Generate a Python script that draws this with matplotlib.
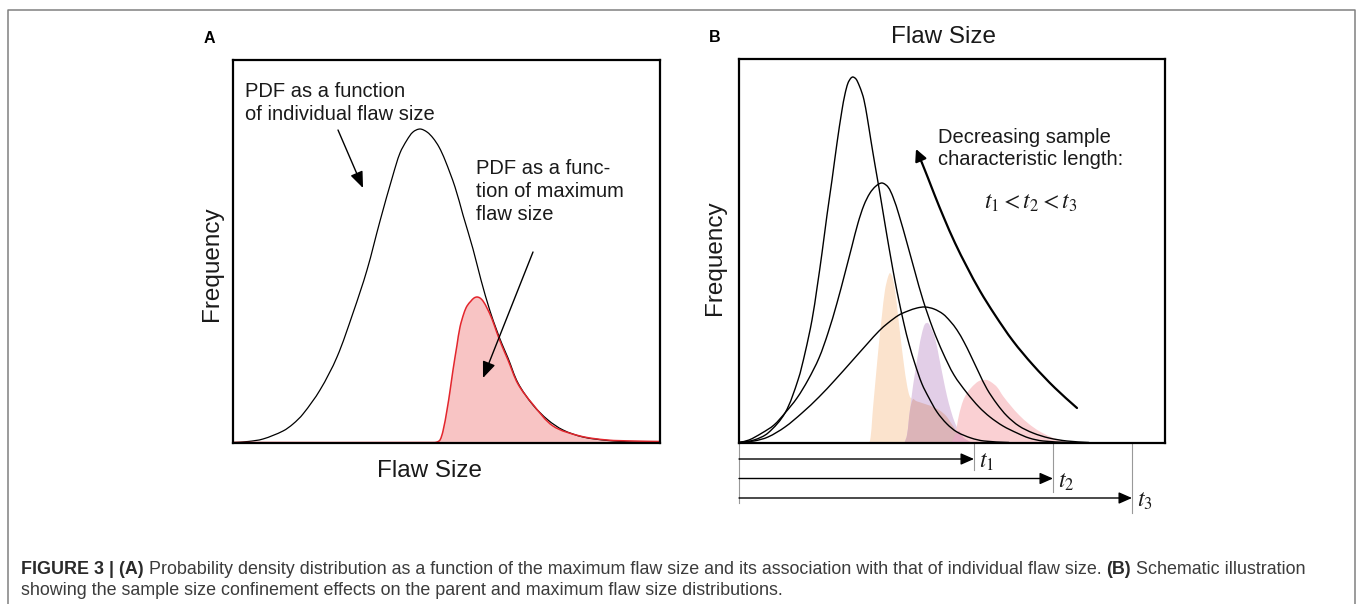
import numpy as np
import matplotlib
matplotlib.use('Agg')
import matplotlib.pyplot as plt
from matplotlib.lines import Line2D
from matplotlib.text import Annotation
from matplotlib.path import Path
from matplotlib.patches import PathPatch

plt.rcParams['font.family'] = ['Liberation Sans', 'DejaVu Sans']
plt.rcParams['mathtext.fontset'] = 'stix'

# panel A: box is 427 x 383 units
a_parent_x = [0, 15, 30, 50, 60, 70, 87, 104, 120, 134, 147, 160, 167, 174, 180, 187, 194, 200, 206,
              212, 222, 230, 240, 248, 257, 264, 269, 275, 285, 300, 315, 330, 350, 375, 400, 427]
a_parent_y = [0.5, 1.5, 4, 12, 19, 29, 53, 86, 130, 173, 222, 268, 290, 303, 311, 314, 311, 305, 296,
              283, 256, 228, 194, 163, 132, 112, 99, 85, 60, 38, 23, 13, 6, 2.5, 1, 0.5]
a_max_x = [0, 200, 204, 207, 210, 214, 217, 220, 224, 227, 231, 234, 238, 241, 244, 247, 250, 254,
           259, 264, 269, 275, 285, 300, 320, 347, 374, 400, 427]
a_max_y = [0.5, 0.5, 1, 3, 12, 33, 52, 73, 98, 116, 130, 137, 142, 145, 146, 145, 142, 135,
           124, 110, 97, 83, 59, 38.5, 17, 7, 3, 2, 1.5]

# panel B: box is 426 x 384 units
b_tall_x = [0, 15, 29, 46, 59, 66, 73, 78, 83, 88, 93, 98, 103, 106, 109, 112, 114, 117, 120, 123,
            125, 128, 132, 136, 140, 144, 148, 152, 156, 160, 165, 170, 176, 183, 190, 198, 208,
            218, 232, 245, 270]
b_tall_y = [0.5, 3, 10, 30, 63, 90, 123, 155, 190, 228, 263, 300, 333, 349, 360, 365, 366, 364, 358,
            350, 343, 327, 302, 278, 255, 231, 207, 184, 162, 142, 119, 99, 79, 59, 45, 31, 19,
            11, 5, 2, 0.5]
b_mid_x = [0, 10, 23, 35, 46, 58, 69, 80, 89, 98, 106, 113, 119, 125, 131, 137, 143, 149, 154, 160,
           168, 176, 184, 194, 204, 215, 228, 240, 251, 264, 278, 290, 304, 330]
b_mid_y = [0.5, 3, 10, 18, 30, 45, 63, 85, 110, 140, 170, 197, 220, 238, 250, 257, 260, 256, 246, 228,
           200, 171, 143, 114, 90, 68, 50, 36, 26, 17, 10, 5, 2, 0.5]
b_wide_x = [0, 15, 29, 46, 63, 80, 96, 113, 129, 140, 149, 160, 169, 178, 186, 195, 204, 211, 218,
            225, 231, 240, 248, 258, 268, 280, 294, 310, 328, 350]
b_wide_y = [0.5, 2, 6, 16, 30, 46, 63, 82, 100, 112, 120, 128, 132, 135, 136, 134, 129, 122, 113,
            101, 89, 70, 54, 39, 27, 17, 10, 5, 2, 0.5]

# maximum flaw size densities, shared x grid
b_fill_x = [128, 131, 134, 137, 140, 143, 146, 149, 151, 153, 156, 159, 162, 165, 168, 171, 174, 177,
            180, 183, 186, 189, 192, 196, 200, 204, 208, 212, 216, 220, 224, 228, 232, 236, 240, 244,
            248, 252, 258, 264, 272, 280, 290, 300, 312, 325, 340]
b_peach_y = [0, 2, 35, 68, 100, 128, 153, 166, 170, 167, 153, 128, 102, 78, 58, 46, 44, 42,
             41, 40, 39, 38, 37, 35, 33, 30, 26, 20, 14, 6, 0, 0, 0, 0, 0, 0,
             0, 0, 0, 0, 0, 0, 0, 0, 0, 0, 0]
b_lilac_y = [0, 0, 0, 0, 0, 0, 0, 0, 0, 0, 0, 0, 0, 0, 8, 33, 57, 76,
             95, 110, 119, 120, 115, 105, 86, 66, 47, 32, 20, 12, 6, 3, 1, 0, 0, 0,
             0, 0, 0, 0, 0, 0, 0, 0, 0, 0, 0]
b_pink_y = [0, 0, 0, 0, 0, 0, 0, 0, 0, 0, 0, 0, 0, 0, 0, 0, 0, 0,
            0, 0, 0, 0, 0, 0, 0, 0, 0, 0, 8, 28, 42, 50, 55, 59, 62, 63,
            63, 61, 56, 47, 37, 28, 19, 12, 6, 2, 0]

# trend arrow (last point is the tip)
b_trend_x = [338, 316, 294, 274, 256, 241, 228, 216, 205, 196, 189, 183, 177]
b_trend_y = [35, 55, 78, 102, 128, 152, 176, 200, 225, 247, 265, 280, 294]

# sample lengths below panel B
t_labels = [r'$t_1$', r'$t_2$', r'$t_3$']
t_len = [235, 314, 393]


def smooth_verts(x, y):
    # bezier through the read points (chord-length catmull-rom handles)
    p = np.column_stack([x, y]).astype(float)
    d = np.hypot(*np.diff(p, axis=0).T)
    d[d == 0] = 1e-9
    m = np.zeros_like(p)
    m[0] = (p[1] - p[0]) / d[0]
    m[-1] = (p[-1] - p[-2]) / d[-1]
    m[1:-1] = (p[2:] - p[:-2]) / (d[:-1] + d[1:])[:, None]
    verts = [p[0]]
    for i in range(len(d)):
        verts += [p[i] + m[i] * d[i] / 3, p[i + 1] - m[i + 1] * d[i] / 3, p[i + 1]]
    codes = [Path.MOVETO] + [Path.CURVE4] * (3 * len(d))
    return verts, codes


def curve(ax, x, y, **kw):
    v, c = smooth_verts(x, y)
    ax.add_patch(PathPatch(Path(v, c), fill=False, capstyle='round', **kw))


def area(ax, x, y, color):
    v, c = smooth_verts(x, y)
    v = v + [(x[-1], 0), (x[0], 0), (x[0], 0)]
    c = c + [Path.LINETO, Path.LINETO, Path.CLOSEPOLY]
    ax.add_patch(PathPatch(Path(v, c), facecolor=color, edgecolor='none', lw=0))


W, H = 1357, 604
fig = plt.figure(figsize=(W / 100, H / 100), dpi=100)

axA = fig.add_axes([233 / W, (H - 443) / H, 427 / W, 383 / H])
axB = fig.add_axes([739 / W, (H - 443) / H, 426 / W, 384 / H])
for ax in (axA, axB):
    ax.set_xticks([])
    ax.set_yticks([])
    for s in ax.spines.values():
        s.set_linewidth(1.6)
        s.set_zorder(5)

# ---- A
area(axA, a_max_x, a_max_y, '#f8c4c4')
curve(axA, a_parent_x, a_parent_y, color='black', lw=0.9)
curve(axA, a_max_x, a_max_y, color='#e3262d', lw=1.1)
axA.set_xlim(0, 427)
axA.set_ylim(0, 383)

arr = dict(arrowstyle='-|>,head_length=0.55,head_width=0.22', color='black', lw=1.0,
           mutation_scale=18, shrinkA=0, shrinkB=0)
axA.annotate('', xy=(130, 255), xytext=(105, 313), arrowprops=arr)
axA.annotate('', xy=(250, 65), xytext=(300, 191), arrowprops=arr)
axA.text(12, 361, 'PDF as a function\nof individual flaw size', fontsize=14.5, va='top',
         linespacing=1.25, color='#1a1a1a')
axA.text(243, 284, 'PDF as a func-\ntion of maximum\nflaw size', fontsize=14.5, va='top',
         linespacing=1.25, color='#1a1a1a')
axA.text(-0.049, 0.467, 'Frequency', transform=axA.transAxes, rotation=90, fontsize=17.5,
         ha='center', va='center', color='#1a1a1a')
axA.text(0.461, -0.073, 'Flaw Size', transform=axA.transAxes, fontsize=17.5,
         ha='center', va='center', color='#1a1a1a')
axA.text(-0.056, 1.057, 'A', transform=axA.transAxes, fontsize=11.5, fontweight='bold',
         ha='center', va='center')

# ---- B
bx = np.array(b_fill_x)
peach = np.array(b_peach_y)
lilac = np.array(b_lilac_y)
pink = np.array(b_pink_y)
area(axB, bx, peach, '#fbe3cd')
area(axB, bx, lilac, '#e2cee7')
area(axB, bx, pink, '#fad0d3')
area(axB, bx, np.minimum(peach, lilac), '#dcb4b8')
area(axB, bx, np.minimum(lilac, pink), '#e6abc2')

for cx, cy in ((b_tall_x, b_tall_y), (b_mid_x, b_mid_y), (b_wide_x, b_wide_y)):
    curve(axB, cx, cy, color='black', lw=1.0)

curve(axB, b_trend_x[:-1], b_trend_y[:-1], color='black', lw=1.6)
axB.annotate('', xy=(b_trend_x[-1], b_trend_y[-1]), xytext=(b_trend_x[-2], b_trend_y[-2]),
             arrowprops=dict(arrowstyle='-|>,head_length=0.5,head_width=0.25', color='black',
                             lw=1.6, mutation_scale=14, shrinkA=0, shrinkB=0))
axB.set_xlim(0, 426)
axB.set_ylim(0, 384)

axB.text(199, 315, 'Decreasing sample\ncharacteristic length:', fontsize=14.5, va='top',
         linespacing=1.2, color='#1a1a1a')
axB.text(292, 240, r'$t_1 < t_2 < t_3$', fontsize=17, ha='center', va='center', color='#1a1a1a')
axB.text(-0.056, 0.482, 'Frequency', transform=axB.transAxes, rotation=90, fontsize=17.5,
         ha='center', va='center', color='#1a1a1a')
axB.text(0.481, 1.056, 'Flaw Size', transform=axB.transAxes, fontsize=17.5,
         ha='center', va='center', color='#1a1a1a')
axB.text(-0.056, 1.055, 'B', transform=axB.transAxes, fontsize=11.5, fontweight='bold',
         ha='center', va='center')

# length arrows under B
axB.plot([0, 0], [0, -60], color='#999999', lw=0.8, clip_on=False)
for i, (lab, tl) in enumerate(zip(t_labels, t_len)):
    row = -16 - 19.5 * i
    axB.plot([tl, tl], [0, row - 11 - 2 * i], color='#999999', lw=0.8, clip_on=False)
    axB.annotate('', xy=(tl, row), xytext=(0, row), annotation_clip=False,
                 arrowprops=dict(arrowstyle='-|>,head_length=0.5,head_width=0.22', color='black',
                                 lw=1.0, mutation_scale=16, shrinkA=0, shrinkB=0))
    axB.text(tl + 5, row - 3, lab, fontsize=17, ha='left', va='center', clip_on=False,
             color='#1a1a1a')

# outer frame
fig.add_artist(Line2D([8 / W, 8 / W, 1355 / W, 1355 / W], [0, (H - 9.5) / H, (H - 9.5) / H, 0],
                      transform=fig.transFigure, color='#808080', lw=1.1))

# caption
cs = 12.9
segs = [('FIGURE 3 | (A)', 'bold'),
        ('Probability density distribution as a function of the maximum flaw size and its '
         'association with that of individual flaw size.', 'normal'),
        ('(B)', 'bold'),
        ('Schematic illustration', 'normal')]
prev = fig.text(21 / W, (H - 574) / H, segs[0][0], fontsize=cs, fontweight='bold',
                color='#2a2a2a', va='baseline')
for txt, wt in segs[1:]:
    a = Annotation(txt, xy=(1, 0), xycoords=prev, xytext=(3.6, 0), textcoords='offset points',
                   fontsize=cs, fontweight=wt, color='#2a2a2a' if wt == 'bold' else '#3c3c3c',
                   va='bottom', ha='left')
    fig.add_artist(a)
    prev = a
fig.text(21 / W, (H - 595) / H, 'showing the sample size confinement effects on the parent and '
         'maximum flaw size distributions.', fontsize=cs, color='#3c3c3c', va='baseline')

fig.savefig('out.png', dpi=100)
